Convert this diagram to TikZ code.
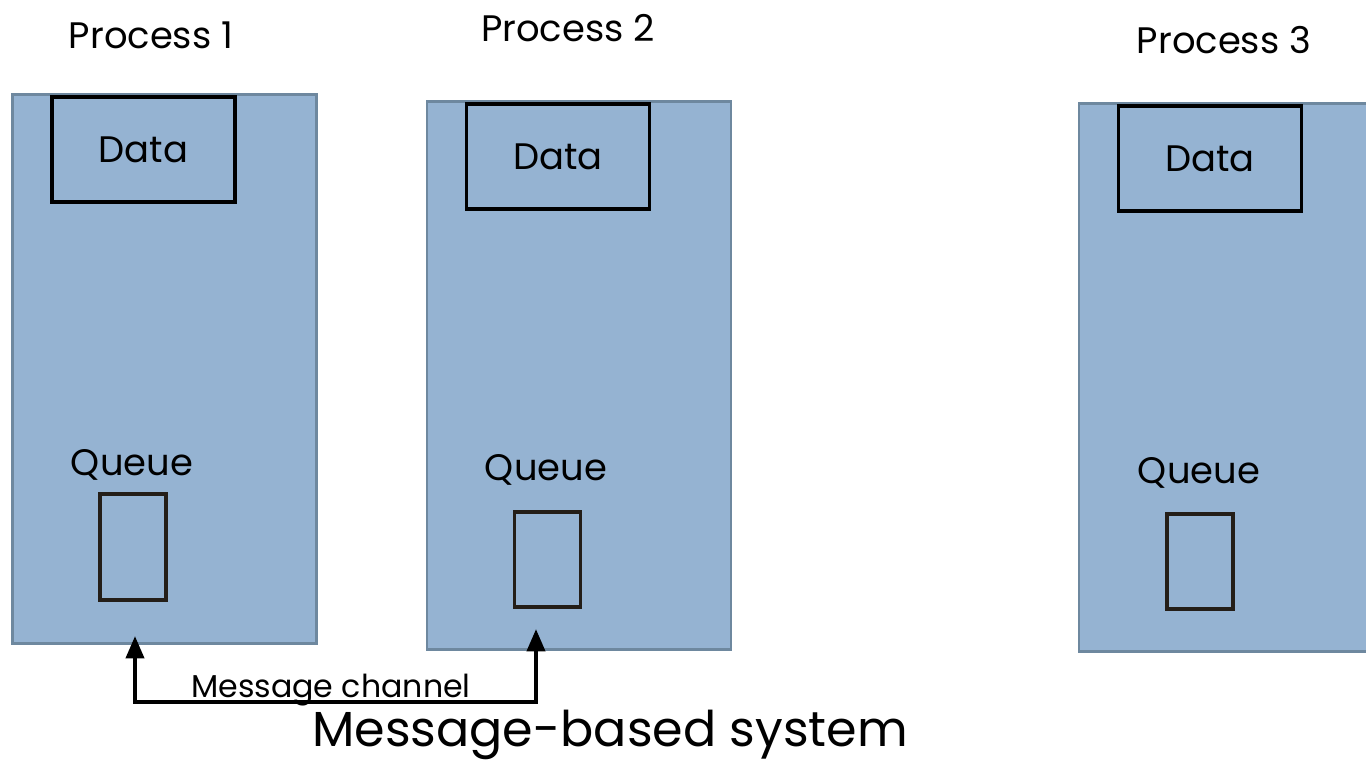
\documentclass[tikz,border=0pt]{standalone}
\usepackage{fontspec}
\setmainfont{Poppins}
\usepackage{tikz}
\usetikzlibrary{arrows.meta, positioning}

\definecolor{procfill}{HTML}{95B3D2}
\definecolor{procline}{HTML}{6E889F}
\definecolor{queueline}{HTML}{241E18}

\begin{document}
\begin{tikzpicture}[
  x=0.02cm, y=-0.02cm,
  proc/.style={
    draw=procline, fill=procfill, line width=1.6pt,
    minimum width=6.08cm, minimum height=10.97cm, inner sep=0pt
  },
  databox/.style={
    draw=black, line width=2pt,
    minimum width=3.66cm, minimum height=2.1cm,
    font=\fontsize{21}{24}\selectfont
  },
  queuebox/.style={draw=queueline, line width=1.8pt, minimum width=1.32cm, inner sep=0pt},
  title/.style={font=\fontsize{21}{24}\selectfont},
  qlabel/.style={font=\fontsize{21}{24}\selectfont, inner sep=0pt},
  arrow/.style={{Triangle[length=4.5mm, width=3.6mm]}-{Triangle[length=4.5mm, width=3.6mm]}, line width=2.4pt}
]
\useasboundingbox (0,0) rectangle (1366,763);
\clip (0,0) rectangle (1366,763);

% Processes
\node[proc] (p1) at (164.5,369) {};
\node[proc] (p2) at (579,375.5) {};
\node[proc] (p3) at (1231,377.5) {};

\node[title] (t1) at (151,35) {Process 1};
\node[title] (t2) at (568,28) {Process 2};
\node[title] (t3) at (1224,40) {Process 3};

% Data
\node[databox] (d1) at (143.5,149.5) {Data};
\node[databox] (d2) at (558,156.5) {Data};
\node[databox] (d3) at (1210,158.5) {Data};

% Queues
\node[queuebox, minimum height=2.12cm] (q1) at (133,547) {};
\node[queuebox, minimum height=1.9cm] (q2) at (547.5,559.5) {};
\node[queuebox, minimum height=1.9cm] (q3) at (1200,561.5) {};

\node[qlabel] (ql1) at (132,465) {Queue};
\node[qlabel] (ql2) at (546,470) {Queue};
\node[qlabel] (ql3) at (1199,473) {Queue};

% Channel
\coordinate (tipL) at (135,636);
\coordinate (tipR) at (536,629);
\coordinate (cornL) at (135,702);
\coordinate (cornR) at (536,702);
\draw[arrow] (tipL) -- (cornL) -- (cornR) -- (tipR);

\node[font=\fontsize{18}{20}\selectfont, anchor=base] (chan) at (331,697) {Message channel};
\node[font=\fontsize{28}{32}\selectfont, anchor=base, inner sep=0pt] (caption) at (610,746) {Message-based system};

\end{tikzpicture}
\end{document}
